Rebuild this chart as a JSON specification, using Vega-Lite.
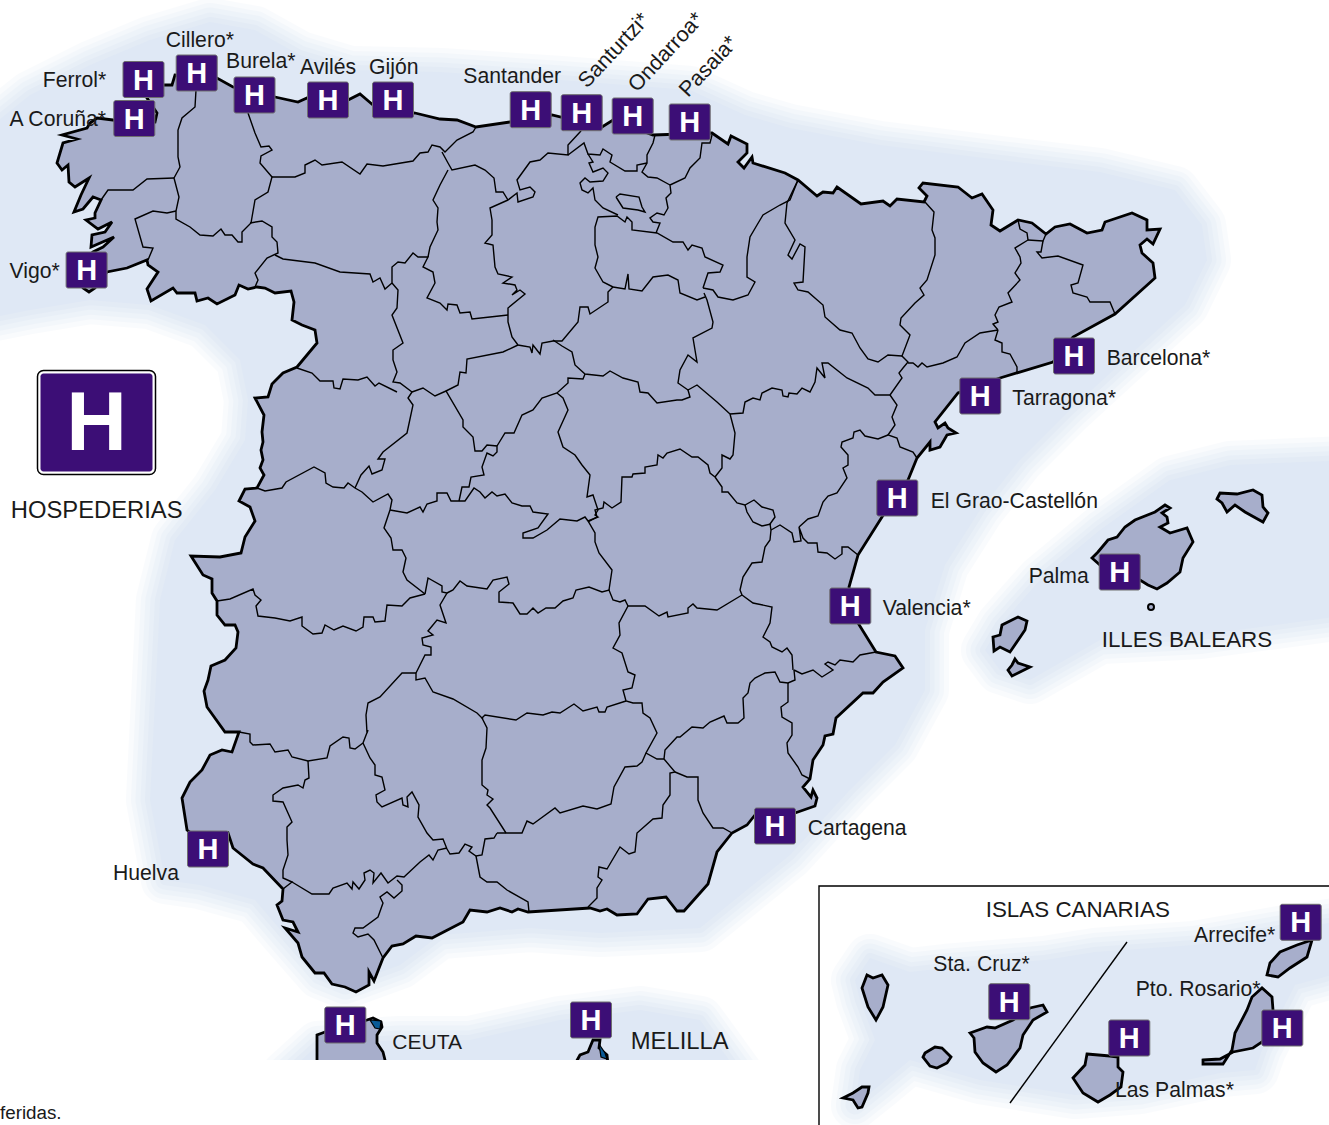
{"$schema":"https://vega.github.io/schema/vega-lite/v6.json","width":1329,"height":1125,"padding":0,"autosize":"none","background":"#ffffff","config":{"view":{"stroke":null}},
"datasets":{
"halo":[
{"type":"Polygon","coordinates":[[[-20,135],[30,95],[90,65],[150,40],[210,22],[255,30],[300,55],[350,70],[440,72],[560,80],[690,90],[745,115],[790,128],[880,145],[1000,160],[1100,172],[1175,190],[1202,225],[1207,260],[1185,305],[1130,355],[1070,410],[1020,460],[980,510],[945,565],[925,630],[925,690],[895,745],[850,790],[790,855],[700,928],[600,933],[530,928],[440,935],[400,965],[345,985],[320,975],[285,935],[255,900],[200,885],[165,880],[150,800],[155,700],[160,600],[175,540],[215,490],[245,440],[248,400],[240,360],[205,325],[150,305],[90,300],[30,310],[-20,320],[-20,135]]]},
{"type":"Polygon","coordinates":[[[1000,625],[1040,580],[1100,530],[1170,480],[1230,465],[1350,460],[1350,615],[1200,635],[1100,640],[1030,680],[1000,670],[985,650],[1000,625]]]},
{"type":"Polygon","coordinates":[[[285,1075],[318,1045],[400,1040],[470,1040],[560,1020],[640,1010],[700,1020],[740,1075],[285,1075]]]}],
"halo2":[
{"type":"Polygon","coordinates":[[[855,980],[870,958],[910,972],[945,968],[1045,960],[1095,952],[1195,945],[1280,930],[1350,920],[1350,970],[1295,985],[1262,1050],[1255,1070],[1220,1073],[1140,1090],[1075,1095],[980,1080],[910,1060],[880,1085],[855,1105],[860,1070],[875,1040],[860,1000],[855,980]]]}],
"land":[
{"type":"Polygon","coordinates":[[[113,120],[97,118],[90,123],[87,128],[62,135],[77,139],[63,143],[57,163],[62,170],[68,165],[69,182],[75,187],[89,178],[81,195],[74,212],[83,209],[93,197],[101,200],[95,213],[95,218],[86,220],[98,229],[112,222],[105,232],[92,235],[91,247],[114,237],[103,247],[93,252],[80,265],[83,288],[89,292],[95,288],[107,272],[127,268],[147,260],[148,265],[158,272],[147,289],[151,301],[173,288],[177,293],[195,293],[197,301],[208,298],[217,304],[235,295],[239,285],[248,289],[257,287],[265,288],[275,293],[291,291],[294,302],[292,320],[302,325],[315,330],[317,343],[297,367],[283,373],[272,384],[268,397],[255,398],[264,415],[262,432],[263,442],[261,450],[263,460],[260,468],[264,475],[257,488],[245,489],[239,501],[250,507],[255,521],[245,537],[241,553],[220,557],[191,556],[203,575],[212,579],[212,593],[217,601],[217,615],[225,625],[235,625],[238,632],[236,648],[225,660],[211,666],[208,680],[204,691],[207,707],[225,732],[239,732],[232,752],[222,750],[210,755],[202,770],[190,782],[182,798],[187,830],[200,840],[228,833],[233,848],[253,864],[263,868],[283,889],[282,901],[277,905],[283,920],[293,922],[298,932],[285,928],[298,943],[302,957],[315,973],[324,973],[332,984],[345,987],[356,992],[369,985],[369,972],[374,981],[383,958],[392,946],[403,944],[416,936],[432,938],[463,922],[470,910],[487,912],[500,908],[512,912],[518,909],[528,912],[590,908],[600,911],[607,909],[617,915],[637,914],[648,899],[666,897],[677,911],[684,911],[708,884],[717,852],[732,833],[747,825],[755,815],[775,820],[795,813],[815,806],[817,798],[813,790],[811,797],[803,787],[810,779],[813,760],[823,745],[825,736],[833,734],[836,718],[863,693],[873,693],[883,682],[903,668],[895,656],[876,652],[858,623],[849,587],[858,555],[882,517],[908,480],[917,458],[930,442],[930,450],[940,447],[947,435],[956,433],[948,428],[945,423],[938,428],[935,422],[958,393],[1000,378],[1053,362],[1073,337],[1115,314],[1155,278],[1153,263],[1142,253],[1140,245],[1147,239],[1153,244],[1160,229],[1147,230],[1147,220],[1132,213],[1105,222],[1102,230],[1087,233],[1070,224],[1055,227],[1046,234],[1032,223],[1018,220],[1000,231],[991,225],[993,210],[982,194],[972,198],[958,187],[923,183],[919,188],[927,196],[924,202],[897,199],[890,206],[883,201],[861,204],[837,187],[833,193],[823,192],[817,196],[798,180],[785,173],[753,163],[752,157],[744,168],[738,162],[747,153],[747,144],[731,136],[728,144],[712,133],[653,135],[613,120],[602,127],[552,115],[510,122],[476,127],[457,120],[440,119],[415,113],[373,105],[360,94],[348,100],[307,98],[298,102],[275,97],[233,87],[217,78],[175,75],[172,85],[163,85],[147,98],[157,113],[155,122],[113,120]]]},
{"type":"Polygon","coordinates":[[[1092,558],[1098,552],[1108,540],[1117,537],[1125,527],[1135,520],[1155,512],[1165,505],[1170,508],[1162,513],[1167,517],[1168,523],[1160,527],[1170,533],[1187,528],[1193,542],[1183,558],[1180,572],[1167,583],[1157,589],[1148,585],[1140,580],[1100,565],[1092,558]]]},
{"type":"Polygon","coordinates":[[[1217,499],[1220,493],[1237,494],[1253,490],[1262,495],[1263,507],[1268,513],[1263,522],[1245,512],[1235,505],[1227,512],[1222,503],[1217,499]]]},
{"type":"Polygon","coordinates":[[[1018,617],[1027,621],[1025,630],[1010,652],[1000,647],[994,651],[993,637],[1000,635],[1002,625],[1018,617]]]},
{"type":"Polygon","coordinates":[[[1015,659],[1018,663],[1030,667],[1020,672],[1012,676],[1008,670],[1012,665],[1015,659]]]},
{"type":"Polygon","coordinates":[[[867,975],[873,978],[882,975],[888,985],[883,1007],[876,1020],[868,1007],[862,988],[867,975]]]},
{"type":"Polygon","coordinates":[[[970,1033],[987,1027],[995,1028],[1013,1020],[1030,1008],[1043,1005],[1047,1012],[1033,1020],[1023,1035],[1020,1048],[1007,1065],[996,1072],[983,1063],[975,1052],[974,1038],[970,1033]]]},
{"type":"Polygon","coordinates":[[[925,1053],[935,1047],[942,1048],[951,1057],[947,1063],[937,1068],[930,1066],[923,1057],[925,1053]]]},
{"type":"Polygon","coordinates":[[[843,1098],[853,1093],[862,1087],[869,1087],[868,1093],[862,1107],[858,1108],[853,1100],[843,1098]]]},
{"type":"Polygon","coordinates":[[[1087,1054],[1110,1056],[1118,1057],[1118,1067],[1123,1072],[1121,1087],[1110,1095],[1098,1102],[1083,1093],[1073,1078],[1085,1065],[1087,1054]]]},
{"type":"Polygon","coordinates":[[[1203,1060],[1220,1059],[1233,1052],[1253,1048],[1265,1040],[1273,1010],[1272,997],[1262,988],[1252,997],[1247,1010],[1235,1033],[1232,1050],[1223,1064],[1203,1064],[1203,1060]]]},
{"type":"Polygon","coordinates":[[[1312,940],[1307,957],[1290,968],[1278,977],[1267,975],[1270,963],[1280,952],[1297,945],[1312,940]]]},
{"type":"Polygon","coordinates":[[[317,1064],[317,1035],[325,1032],[367,1020],[373,1018],[381,1022],[382,1027],[377,1035],[377,1043],[383,1052],[386,1064],[317,1064]]]},
{"type":"Polygon","coordinates":[[[575,1064],[580,1055],[588,1052],[593,1040],[600,1040],[599,1048],[607,1055],[608,1064],[575,1064]]]}],
"water":[
{"type":"Polygon","coordinates":[[[370,1020],[381,1021],[380,1029],[375,1028],[370,1020]]]},
{"type":"Polygon","coordinates":[[[599,1044],[605,1053],[607,1059],[601,1057],[599,1044]]]}],
"borders":[
{"type":"LineString","coordinates":[[196,90],[195,107],[182,118],[178,130],[178,157],[180,167],[174,178],[179,197],[176,211],[176,219],[190,227],[200,235],[213,236],[221,229],[225,235],[232,235],[238,242],[242,242],[242,232],[251,223],[255,200],[268,192],[272,177],[260,163],[261,156],[272,150],[269,146],[261,147],[255,133],[248,113]]},
{"type":"LineString","coordinates":[[174,178],[147,179],[133,190],[108,190],[101,200]]},
{"type":"LineString","coordinates":[[176,211],[167,213],[153,211],[135,219],[143,247],[153,248],[148,260]]},
{"type":"LineString","coordinates":[[272,177],[295,177],[305,173],[305,165],[315,160],[322,165],[342,162],[360,174],[367,164],[383,166],[413,161],[420,153],[428,152],[432,145],[440,147],[445,152],[457,140],[473,132],[476,127]]},
{"type":"LineString","coordinates":[[442,152],[448,163],[452,170],[475,165],[485,170],[494,178],[496,192],[503,192],[508,200],[517,193],[518,202],[533,197],[535,192],[530,187],[520,190],[517,180],[530,162],[540,160],[548,153],[568,155],[568,145],[580,132],[585,125]]},
{"type":"LineString","coordinates":[[250,223],[262,221],[272,227],[272,237],[277,242],[278,253],[267,258],[255,273],[258,280],[255,287]]},
{"type":"LineString","coordinates":[[275,255],[283,259],[315,263],[340,272],[370,274],[373,282],[380,278],[385,289],[392,283],[392,267],[398,262],[405,263],[413,253],[418,257],[428,257],[423,267],[433,272],[435,283],[427,298],[440,303],[447,310],[448,304],[457,305],[460,313],[470,312],[472,319],[490,317],[508,315]]},
{"type":"LineString","coordinates":[[448,170],[440,185],[433,200],[438,208],[437,222],[438,230],[430,247],[428,257]]},
{"type":"LineString","coordinates":[[392,283],[398,290],[397,308],[392,315],[403,343],[393,350],[393,360],[397,372],[393,382],[400,383],[412,392]]},
{"type":"LineString","coordinates":[[508,200],[490,208],[492,220],[492,235],[485,243],[493,245],[495,267],[498,274],[512,277],[503,283],[515,285],[517,290],[512,295],[520,290],[525,294],[508,308],[508,322],[512,337],[518,345],[530,347],[532,353],[533,345],[540,354],[542,343],[553,341],[562,341],[578,322],[580,307],[588,307],[590,314],[608,302],[608,292],[613,287]]},
{"type":"LineString","coordinates":[[613,287],[603,282],[595,268],[598,257],[595,245],[595,227],[598,217],[617,216],[625,222],[627,217],[632,222],[632,230],[657,233],[673,242],[683,242],[688,250],[692,245],[702,248],[705,257],[723,265],[720,272],[708,273],[703,288]]},
{"type":"LineString","coordinates":[[613,287],[625,289],[628,274],[629,289],[642,291],[653,277],[668,275],[678,280],[680,293],[697,300],[705,297]]},
{"type":"LineString","coordinates":[[703,288],[713,290],[718,297],[733,300],[748,295],[755,282],[747,277],[747,257],[750,237],[757,225],[763,215],[780,205],[790,200],[798,180]]},
{"type":"LineString","coordinates":[[656,233],[660,223],[653,222],[650,218],[657,213],[664,215],[668,208],[666,198],[671,193],[670,185],[685,178],[690,168],[700,158],[702,143],[710,143],[712,135]]},
{"type":"LineString","coordinates":[[655,135],[653,143],[647,155],[647,163],[642,172],[648,177],[657,178],[670,185]]},
{"type":"LineString","coordinates":[[647,163],[637,165],[637,171],[625,171],[610,162],[612,155],[603,149],[600,155],[588,154],[584,143],[568,155]]},
{"type":"LineString","coordinates":[[588,154],[593,162],[589,163],[593,172],[603,168],[608,173],[603,181],[590,182],[585,178],[580,183],[582,190],[588,193],[593,188],[595,200],[603,208],[618,215]]},
{"type":"LineString","coordinates":[[616,197],[620,194],[639,197],[642,207],[645,212],[638,210],[623,208],[616,197]]},
{"type":"LineString","coordinates":[[798,180],[787,203],[785,223],[795,240],[788,255],[792,259],[800,244],[805,247],[803,282],[794,283],[798,290],[808,292],[823,305],[825,317],[840,330],[852,333],[860,348],[868,359],[878,362],[888,355],[902,356]]},
{"type":"LineString","coordinates":[[925,202],[934,212],[932,230],[935,238],[935,255],[927,280],[920,288],[924,295],[915,303],[901,318],[900,325],[910,335],[902,356],[908,362],[903,368],[899,373],[902,378],[890,395]]},
{"type":"LineString","coordinates":[[908,363],[913,363],[918,367],[922,363],[927,367],[943,363],[957,357],[965,343],[980,333],[998,330]]},
{"type":"LineString","coordinates":[[998,330],[993,324],[998,322],[995,315],[999,307],[1012,302],[1008,293],[1020,280],[1015,273],[1021,263],[1020,257],[1015,248],[1028,240],[1027,233],[1020,229],[1018,220]]},
{"type":"LineString","coordinates":[[1028,240],[1043,241],[1046,234]]},
{"type":"LineString","coordinates":[[1043,241],[1041,252],[1037,252],[1042,258],[1058,256],[1083,265],[1078,283],[1071,285],[1073,293],[1087,297],[1090,302],[1110,302],[1115,314]]},
{"type":"LineString","coordinates":[[998,330],[995,340],[1002,343],[1002,352],[1010,354],[1017,367],[1017,372]]},
{"type":"LineString","coordinates":[[890,395],[897,405],[892,417],[895,425],[888,435],[897,438],[900,447],[913,452],[917,458]]},
{"type":"LineString","coordinates":[[890,395],[875,395],[868,388],[847,378],[828,363],[822,363],[825,378],[817,368],[815,382],[810,392],[802,388],[797,394],[789,393],[788,397],[783,396],[782,390],[772,388],[762,393],[760,400],[753,398],[745,402],[743,413],[730,414]]},
{"type":"LineString","coordinates":[[730,414],[717,402],[697,385],[688,390],[678,383],[680,370],[688,355],[697,362],[693,338],[712,328],[713,322],[707,300],[704,293]]},
{"type":"LineString","coordinates":[[553,340],[562,346],[572,352],[575,365],[585,374],[603,376],[610,371],[623,378],[638,382],[640,392],[648,393],[657,403],[677,400],[682,400],[690,397],[688,390]]},
{"type":"LineString","coordinates":[[518,345],[503,352],[467,359],[466,373],[460,372],[458,385],[446,391]]},
{"type":"LineString","coordinates":[[297,368],[312,373],[320,381],[333,381],[334,388],[340,389],[343,379],[358,380],[367,377],[375,386],[379,383],[397,392]]},
{"type":"LineString","coordinates":[[412,392],[408,398],[413,405],[407,433],[383,452],[378,459],[385,459],[382,470],[372,474],[369,466],[361,475],[355,488]]},
{"type":"LineString","coordinates":[[257,488],[265,491],[282,488],[286,482],[314,467],[325,473],[326,483],[333,487],[344,488],[348,483],[355,488],[362,492],[373,502],[388,494],[392,500],[390,510]]},
{"type":"LineString","coordinates":[[412,392],[423,388],[435,396],[446,391],[463,420],[463,427],[473,437],[475,451],[482,451],[487,445],[497,446],[497,452],[493,456],[487,453],[482,467],[484,475],[471,477],[469,487],[462,487],[459,501]]},
{"type":"LineString","coordinates":[[497,446],[505,433],[514,433],[522,415],[533,410],[542,398],[557,393],[568,383],[568,378],[583,379],[585,374]]},
{"type":"LineString","coordinates":[[557,393],[563,398],[568,410],[558,432],[563,447],[575,455],[582,465],[590,475],[587,497],[593,495],[598,510],[595,515],[598,517],[588,521]]},
{"type":"LineString","coordinates":[[390,510],[407,513],[420,507],[423,512],[427,504],[437,501],[437,493],[447,493],[451,501],[465,501],[474,488],[480,492],[485,498],[492,492],[497,496],[505,494],[512,503],[522,506],[530,506],[533,512],[548,514],[538,528],[523,533],[523,538],[533,538],[547,530],[560,519],[577,521],[585,517],[588,521],[595,533],[595,542],[599,553],[612,570],[609,590]]},
{"type":"LineString","coordinates":[[390,510],[384,528],[391,538],[393,550],[402,550],[406,558],[403,572],[407,580],[425,594]]},
{"type":"LineString","coordinates":[[217,601],[230,599],[253,589],[255,595],[261,600],[256,606],[258,616],[275,618],[290,621],[302,617],[302,626],[313,634],[322,633],[325,625],[334,630],[343,626],[356,631],[363,627],[364,617],[373,617],[375,622],[385,621],[387,605],[402,606],[410,598],[425,594]]},
{"type":"LineString","coordinates":[[425,594],[428,578],[442,586],[442,592],[447,593],[440,605],[446,623],[437,620],[428,631],[433,635],[422,638],[423,645],[431,647],[431,655],[425,655],[416,673]]},
{"type":"LineString","coordinates":[[447,593],[453,590],[460,581],[467,586],[487,589],[493,580],[507,577],[509,584],[499,592],[499,602],[513,603],[520,614],[527,614],[533,608],[538,613],[546,608],[555,608],[563,601],[573,598],[576,590],[589,587],[602,592],[609,590],[613,600],[620,602],[625,600],[628,606]]},
{"type":"LineString","coordinates":[[628,606],[645,606],[659,616],[667,612],[668,617],[688,613],[688,608],[693,604],[697,608],[717,610],[742,595]]},
{"type":"LineString","coordinates":[[742,595],[740,590],[743,577],[752,563],[762,562],[765,547],[770,540],[771,530]]},
{"type":"LineString","coordinates":[[588,522],[597,517],[595,510],[603,508],[604,502],[612,508],[621,502],[622,477],[632,477],[633,474],[645,473],[645,467],[657,465],[658,455],[663,458],[667,453],[680,449],[692,457],[698,457],[708,465],[710,473],[715,477]]},
{"type":"LineString","coordinates":[[730,414],[735,433],[733,455],[730,459],[722,455],[722,468],[715,477]]},
{"type":"LineString","coordinates":[[715,477],[722,487],[722,492],[728,492],[737,503],[745,505],[754,500],[762,507],[773,510],[775,517],[770,524],[771,530]]},
{"type":"LineString","coordinates":[[745,505],[747,512],[753,522],[762,526],[771,524]]},
{"type":"LineString","coordinates":[[771,530],[780,525],[792,533],[794,542],[801,541],[799,527],[803,538],[808,543],[817,543],[818,552],[827,553],[835,559],[842,554],[842,547],[848,547],[858,555]]},
{"type":"LineString","coordinates":[[799,527],[808,519],[818,516],[823,502],[828,496],[837,493],[847,478],[843,468],[848,465],[848,455],[841,447],[842,442],[853,438],[854,432],[860,430],[865,436],[878,439],[888,435]]},
{"type":"LineString","coordinates":[[742,595],[753,603],[772,607],[770,623],[763,637],[770,642],[772,647],[782,652],[787,648],[792,655],[793,670]]},
{"type":"LineString","coordinates":[[794,670],[802,674],[813,670],[822,677],[833,670],[825,664],[828,662],[835,665],[840,660],[853,662],[860,655],[876,652]]},
{"type":"LineString","coordinates":[[794,670],[795,680],[788,683],[780,682],[775,672],[765,673],[755,678],[750,683],[748,693],[743,698],[744,718],[738,723],[727,723],[724,716],[710,722],[703,728],[692,727],[680,737],[677,737],[665,750],[664,759]]},
{"type":"LineString","coordinates":[[788,683],[788,702],[781,707],[782,717],[792,723],[792,735],[787,743],[788,753],[798,767],[802,775],[810,779]]},
{"type":"LineString","coordinates":[[628,606],[619,623],[620,635],[613,648],[622,653],[628,672],[635,675],[632,688],[623,690],[626,701],[633,703],[642,703],[643,713],[650,718],[657,733],[646,753],[657,759],[664,759]]},
{"type":"LineString","coordinates":[[626,701],[607,707],[605,712],[599,712],[597,707],[583,711],[574,704],[560,713],[552,712],[543,715],[527,713],[516,720],[485,715],[482,718]]},
{"type":"LineString","coordinates":[[482,718],[487,728],[486,748],[482,760],[482,785],[488,790],[487,795],[493,799],[487,805],[490,808],[506,833]]},
{"type":"LineString","coordinates":[[497,833],[506,833],[522,833],[527,821],[533,824],[555,808],[560,813],[583,806],[597,809],[611,804],[614,787],[625,767],[637,766],[642,762],[646,753]]},
{"type":"LineString","coordinates":[[664,759],[675,772],[670,773],[670,795],[663,805],[662,818],[653,819],[637,833],[635,852],[629,854],[620,847],[607,869],[599,867],[598,877],[602,880],[597,888],[597,898],[588,907]]},
{"type":"LineString","coordinates":[[675,772],[687,777],[698,777],[698,800],[703,813],[713,828],[723,828],[732,833]]},
{"type":"LineString","coordinates":[[416,673],[402,673],[380,697],[368,703],[366,715],[367,733],[368,730],[363,743]]},
{"type":"LineString","coordinates":[[416,673],[416,680],[425,678],[433,692],[453,699],[477,713],[483,719]]},
{"type":"LineString","coordinates":[[239,732],[250,734],[250,742],[253,745],[270,744],[275,752],[288,750],[292,757],[308,761],[327,758],[330,746],[343,737],[349,738],[350,748],[355,749],[363,743]]},
{"type":"LineString","coordinates":[[363,743],[370,758],[375,765],[375,775],[382,777],[385,790],[376,795],[377,802],[382,807],[402,798],[403,805],[408,807],[407,797],[412,792],[419,805],[418,817],[427,833],[433,840],[443,839],[447,849],[450,854],[459,853],[465,844],[472,847],[469,851],[476,856],[482,855],[485,839],[494,838],[497,833]]},
{"type":"LineString","coordinates":[[476,856],[480,877],[487,882],[497,882],[507,890],[528,902],[529,912]]},
{"type":"LineString","coordinates":[[308,761],[309,778],[305,780],[303,788],[298,785],[283,788],[273,795],[273,801],[283,802],[292,822],[287,827],[287,840],[288,855],[283,870],[283,878],[292,882],[283,889]]},
{"type":"LineString","coordinates":[[292,882],[312,894],[329,894],[333,888],[347,883],[352,889],[353,882],[359,889],[365,880],[364,873],[370,870],[374,873],[373,883],[381,873],[388,883],[397,876],[404,877],[420,862],[429,855],[433,860],[438,850],[447,848]]},
{"type":"LineString","coordinates":[[397,880],[402,885],[402,891],[394,898],[387,892],[380,897],[383,903],[378,917],[363,928],[355,928],[353,933],[358,937],[368,934],[374,940],[383,958]]}],
"frame":[
{"type":"LineString","coordinates":[[819,1130],[819,886],[1335,886]]},
{"type":"LineString","coordinates":[[1127,942],[1010,1103]]}],
"signs":[{"name":"Ferrol","x":143.5,"y":79.5},{"name":"A Coruña","x":134.3,"y":118.5},{"name":"Cillero","x":196.7,"y":73},{"name":"Burela","x":254.5,"y":95},{"name":"Avilés","x":328,"y":100},{"name":"Gijón","x":393,"y":100},{"name":"Vigo","x":86.6,"y":270},{"name":"Santander","x":530.7,"y":109.7},{"name":"Santurtzi","x":581.7,"y":112.7},{"name":"Ondarroa","x":632.7,"y":116},{"name":"Pasaia","x":689.7,"y":122},{"name":"Barcelona","x":1074,"y":356},{"name":"Tarragona","x":980.3,"y":396},{"name":"El Grao-Castellón","x":897.3,"y":498},{"name":"Valencia","x":850.3,"y":606},{"name":"Cartagena","x":775,"y":826},{"name":"Huelva","x":208,"y":849},{"name":"Ceuta","x":345.3,"y":1025},{"name":"Melilla","x":591,"y":1020},{"name":"Palma","x":1119.7,"y":572},{"name":"Sta. Cruz","x":1009.3,"y":1001.7},{"name":"Las Palmas","x":1129.3,"y":1038},{"name":"Arrecife","x":1300.7,"y":922.3},{"name":"Pto. Rosario","x":1282.3,"y":1028}],
"labels":[{"t":"Ferrol*","x":42.7,"y":86.7},{"t":"A Coruña*","x":9.5,"y":126},{"t":"Cillero*","x":165.7,"y":47},{"t":"Burela*","x":226,"y":68.3},{"t":"Avilés","x":300,"y":74},{"t":"Gijón","x":369,"y":74},{"t":"Vigo*","x":9.5,"y":277.7},{"t":"Santander","x":463.3,"y":83.3},{"t":"Barcelona*","x":1106.7,"y":365},{"t":"Tarragona*","x":1012.3,"y":405},{"t":"El Grao-Castellón","x":930.7,"y":508.3},{"t":"Valencia*","x":882.7,"y":615},{"t":"Cartagena","x":807.7,"y":835.3},{"t":"Huelva","x":113,"y":880},{"t":"Palma","x":1028.7,"y":582.7},{"t":"Sta. Cruz*","x":933.3,"y":970.7},{"t":"Arrecife*","x":1194,"y":941.7},{"t":"Pto. Rosario*","x":1135.7,"y":995.7},{"t":"Las Palmas*","x":1115,"y":1097.3}],
"rotated":[{"t":"Santurtzi*","x":587,"y":89},{"t":"Ondarroa*","x":637,"y":93},{"t":"Pasaia*","x":688,"y":98}],
"capsA":[{"t":"ILLES BALEARS","x":1101.7,"y":646.7},{"t":"ISLAS CANARIAS","x":985.7,"y":917.3}],
"capsB":[{"t":"HOSPEDERIAS","x":10.7,"y":518.3},{"t":"MELILLA","x":630.7,"y":1049.3}]
},
"layer":[
{"data":{"name":"halo"},"mark":{"type":"geoshape","fill":"#dfe8f5","stroke":"#dfe8f5","strokeWidth":48,"opacity":0.167,"strokeJoin":"round"},"projection":{"type":"identity","scale":1,"translate":[0,0]}},
{"data":{"name":"halo"},"mark":{"type":"geoshape","fill":"#dfe8f5","stroke":"#dfe8f5","strokeWidth":38,"opacity":0.2,"strokeJoin":"round"},"projection":{"type":"identity","scale":1,"translate":[0,0]}},
{"data":{"name":"halo"},"mark":{"type":"geoshape","fill":"#dfe8f5","stroke":"#dfe8f5","strokeWidth":29,"opacity":0.25,"strokeJoin":"round"},"projection":{"type":"identity","scale":1,"translate":[0,0]}},
{"data":{"name":"halo"},"mark":{"type":"geoshape","fill":"#dfe8f5","stroke":"#dfe8f5","strokeWidth":19,"opacity":0.33,"strokeJoin":"round"},"projection":{"type":"identity","scale":1,"translate":[0,0]}},
{"data":{"name":"halo"},"mark":{"type":"geoshape","fill":"#dfe8f5","stroke":"#dfe8f5","strokeWidth":10,"opacity":0.5,"strokeJoin":"round"},"projection":{"type":"identity","scale":1,"translate":[0,0]}},
{"data":{"name":"halo"},"mark":{"type":"geoshape","fill":"#dfe8f5","stroke":null},"projection":{"type":"identity","scale":1,"translate":[0,0]}},
{"data":{"values":[{"a":819,"b":1329,"c":886,"d":1125}]},"mark":{"type":"rect","fill":"#ffffff"},"encoding":{"x":{"field":"a","type":"quantitative","scale":{"domain":[0,1329],"nice":false},"axis":null},"x2":{"field":"b"},"y":{"field":"c","type":"quantitative","scale":{"domain":[1125,0],"nice":false},"axis":null},"y2":{"field":"d"}}},
{"data":{"name":"halo2"},"mark":{"type":"geoshape","fill":"#dfe8f5","stroke":"#dfe8f5","strokeWidth":48,"opacity":0.167,"strokeJoin":"round"},"projection":{"type":"identity","scale":1,"translate":[0,0]}},
{"data":{"name":"halo2"},"mark":{"type":"geoshape","fill":"#dfe8f5","stroke":"#dfe8f5","strokeWidth":38,"opacity":0.2,"strokeJoin":"round"},"projection":{"type":"identity","scale":1,"translate":[0,0]}},
{"data":{"name":"halo2"},"mark":{"type":"geoshape","fill":"#dfe8f5","stroke":"#dfe8f5","strokeWidth":29,"opacity":0.25,"strokeJoin":"round"},"projection":{"type":"identity","scale":1,"translate":[0,0]}},
{"data":{"name":"halo2"},"mark":{"type":"geoshape","fill":"#dfe8f5","stroke":"#dfe8f5","strokeWidth":19,"opacity":0.33,"strokeJoin":"round"},"projection":{"type":"identity","scale":1,"translate":[0,0]}},
{"data":{"name":"halo2"},"mark":{"type":"geoshape","fill":"#dfe8f5","stroke":"#dfe8f5","strokeWidth":10,"opacity":0.5,"strokeJoin":"round"},"projection":{"type":"identity","scale":1,"translate":[0,0]}},
{"data":{"name":"halo2"},"mark":{"type":"geoshape","fill":"#dfe8f5","stroke":null},"projection":{"type":"identity","scale":1,"translate":[0,0]}},
{"data":{"name":"land"},"mark":{"type":"geoshape","fill":"#a7aecb","stroke":"#000000","strokeWidth":2.8,"strokeJoin":"miter"},"projection":{"type":"identity","scale":1,"translate":[0,0]}},
{"data":{"name":"water"},"mark":{"type":"geoshape","fill":"#0a5a96","stroke":"#000000","strokeWidth":1.2},"projection":{"type":"identity","scale":1,"translate":[0,0]}},
{"data":{"values":[{"a":250,"b":770,"c":1060,"d":1125}]},"mark":{"type":"rect","fill":"#ffffff"},"encoding":{"x":{"field":"a","type":"quantitative","scale":{"domain":[0,1329],"nice":false},"axis":null},"x2":{"field":"b"},"y":{"field":"c","type":"quantitative","scale":{"domain":[1125,0],"nice":false},"axis":null},"y2":{"field":"d"}}},
{"data":{"name":"borders"},"mark":{"type":"geoshape","filled":false,"stroke":"#000000","strokeWidth":1.4},"projection":{"type":"identity","scale":1,"translate":[0,0]}},
{"data":{"name":"frame"},"mark":{"type":"geoshape","filled":false,"stroke":"#000000","strokeWidth":1.4},"projection":{"type":"identity","scale":1,"translate":[0,0]}},
{"encoding":{"x":{"field":"x","type":"quantitative","scale":{"domain":[0,1329],"nice":false},"axis":null},"y":{"field":"y","type":"quantitative","scale":{"domain":[1125,0],"nice":false},"axis":null}},
"layer":[
{"data":{"values":[{"x":1151,"y":607}]},"mark":{"type":"point","filled":true,"fill":"#a7aecb","stroke":"#000000","strokeWidth":2,"size":36,"opacity":1}},
{"data":{"name":"signs"},"mark":{"type":"rect","width":41,"height":36,"fill":"#3c0e76","stroke":"#6f6f6f","strokeWidth":1,"cornerRadius":2}},
{"data":{"name":"signs"},"mark":{"type":"text","text":"H","font":"Liberation Sans","fontWeight":"bold","fontSize":29,"fill":"#ffffff","baseline":"middle","align":"center","dy":1}},
{"data":{"values":[{"x":96.5,"y":422.5}]},"mark":{"type":"rect","width":118,"height":104,"fill":"#ffffff","stroke":"#000000","strokeWidth":1.5,"cornerRadius":6}},
{"data":{"values":[{"x":96.5,"y":422.5}]},"mark":{"type":"rect","width":112,"height":98,"fill":"#3c0e76","cornerRadius":3}},
{"data":{"values":[{"x":96.5,"y":422.5}]},"mark":{"type":"text","text":"H","font":"Liberation Sans","fontWeight":"bold","fontSize":84,"fill":"#ffffff","baseline":"middle","align":"center","dy":2}},
{"data":{"name":"labels"},"mark":{"type":"text","font":"Liberation Sans","fontSize":21.2,"fill":"#1a1a1a","align":"left","baseline":"alphabetic"},"encoding":{"text":{"field":"t"}}},
{"data":{"name":"rotated"},"mark":{"type":"text","font":"Liberation Sans","fontSize":21.5,"fill":"#1a1a1a","align":"left","baseline":"alphabetic","angle":313},"encoding":{"text":{"field":"t"}}},
{"data":{"name":"capsA"},"mark":{"type":"text","font":"Liberation Sans","fontSize":22.4,"fill":"#1a1a1a","align":"left","baseline":"alphabetic"},"encoding":{"text":{"field":"t"}}},
{"data":{"name":"capsB"},"mark":{"type":"text","font":"Liberation Sans","fontSize":23.8,"fill":"#1a1a1a","align":"left","baseline":"alphabetic"},"encoding":{"text":{"field":"t"}}},
{"data":{"values":[{"t":"CEUTA","x":392.3,"y":1049.3}]},"mark":{"type":"text","font":"Liberation Sans","fontSize":21,"fill":"#1a1a1a","align":"left","baseline":"alphabetic"},"encoding":{"text":{"field":"t"}}},
{"data":{"values":[{"t":"feridas.","x":0,"y":1119}]},"mark":{"type":"text","font":"Liberation Sans","fontSize":18.8,"fill":"#1a1a1a","align":"left","baseline":"alphabetic"},"encoding":{"text":{"field":"t"}}}
]}
]}
